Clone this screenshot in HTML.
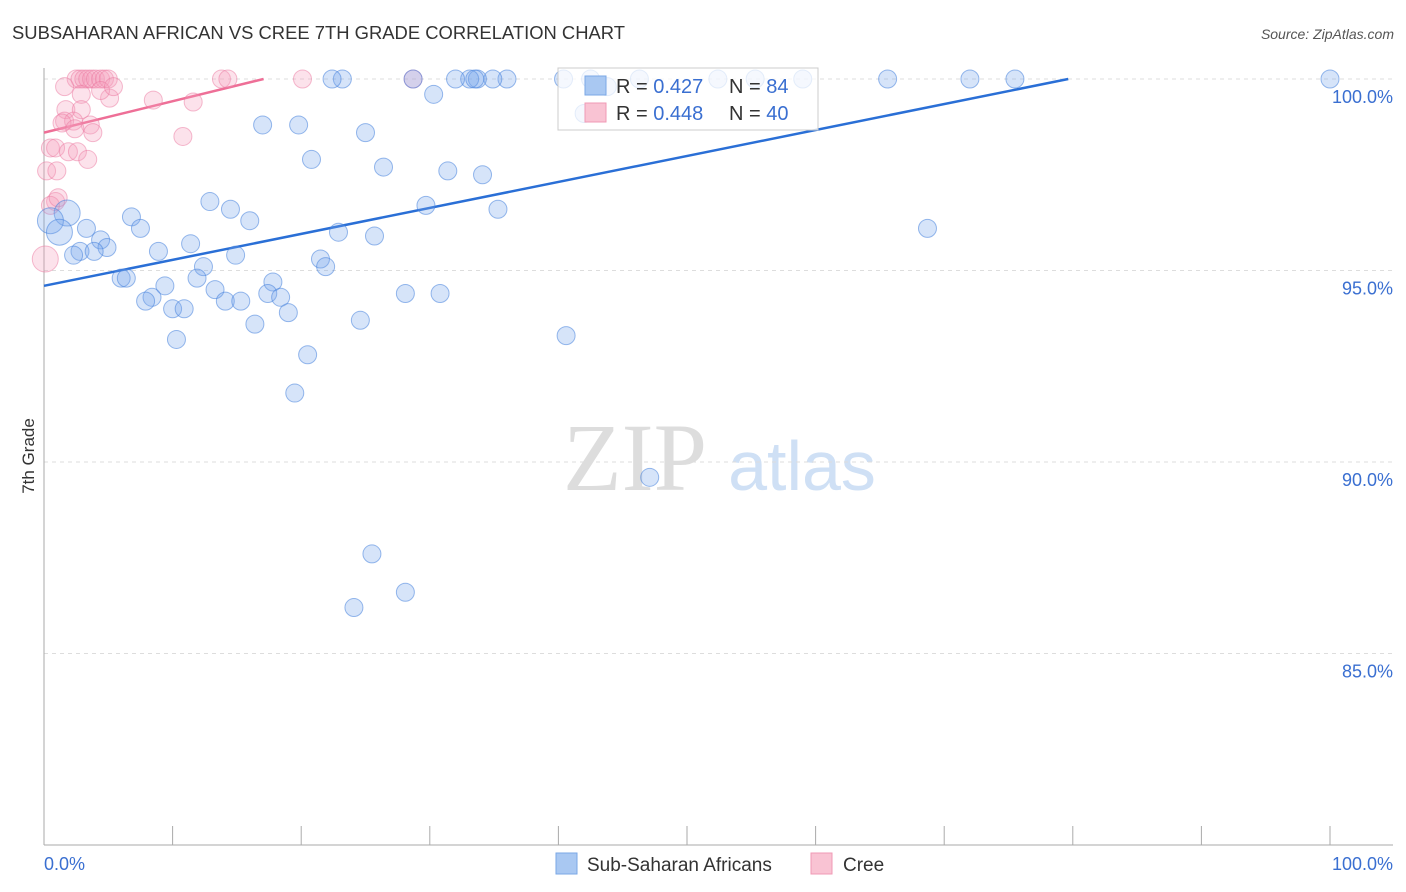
<!DOCTYPE html>
<html><head><meta charset="utf-8"><style>
body{margin:0;background:#fff;font-family:"Liberation Sans",sans-serif;}
svg{display:block}
</style></head><body>
<svg id="chart" width="1406" height="892" xmlns="http://www.w3.org/2000/svg">
<text x="12" y="39" font-size="18" fill="#333" textLength="613" lengthAdjust="spacingAndGlyphs">SUBSAHARAN AFRICAN VS CREE 7TH GRADE CORRELATION CHART</text>
<text x="1394" y="39" font-size="14" fill="#555" text-anchor="end" font-style="italic">Source: ZipAtlas.com</text>
<text transform="translate(34,456) rotate(-90)" font-size="17" fill="#333" text-anchor="middle">7th Grade</text>
<g>
<text x="635" y="490" font-size="96" fill="#ddd" font-family="Liberation Serif,serif" text-anchor="middle">ZIP</text>
<text x="802" y="490" font-size="70" fill="#cfe0f5" text-anchor="middle">atlas</text>
</g>
<g id="grid"></g><g id="axes"></g><g id="lines"></g><g id="pts"></g>
<g>
<rect x="558" y="68" width="260" height="62" fill="rgba(255,255,255,0.75)" stroke="#ccc"/>
<rect x="585" y="76" width="21" height="19" fill="#a9c8f2" stroke="#7aa7e6"/>
<text x="616" y="93" font-size="20" fill="#333">R = <tspan fill="#3a6fd1">0.427</tspan></text>
<text x="729" y="93" font-size="20" fill="#333">N = <tspan fill="#3a6fd1">84</tspan></text>
<rect x="585" y="103" width="21" height="19" fill="#f9c3d3" stroke="#f09ab5"/>
<text x="616" y="120" font-size="20" fill="#333">R = <tspan fill="#3a6fd1">0.448</tspan></text>
<text x="729" y="120" font-size="20" fill="#333">N = <tspan fill="#3a6fd1">40</tspan></text>
</g>
<g>
<rect x="556" y="853" width="21" height="21" fill="#a9c8f2" stroke="#7aa7e6"/>
<text x="587" y="871" font-size="19" fill="#333">Sub-Saharan Africans</text>
<rect x="811" y="853" width="21" height="21" fill="#f9c3d3" stroke="#f09ab5"/>
<text x="843" y="871" font-size="19" fill="#333">Cree</text>
</g>
</svg>
<script>
const yTicks=[100,95,90,85];
const yTickLabels=["100.0%","95.0%","90.0%","85.0%"];
const xTicks=[0,10,20,30,40,50,60,70,80,90,100];
const blueX=[100,65.6,72.0,75.5,68.7,47.1,40.6,59.0,55.3,52.4,46.3,42.5,40.4,36.0,34.9,33.7,33.1,32.0,28.7,23.2,22.4,30.3,17.0,19.8,25.0,20.8,26.4,31.4,34.1,29.7,35.3,12.9,14.5,16.0,6.8,7.5,3.3,4.4,4.9,2.8,2.3,3.9,8.9,11.4,14.9,12.4,22.9,25.7,21.5,21.9,17.8,11.9,6.0,6.4,9.4,13.3,8.4,7.9,17.4,18.4,14.1,15.3,10.0,10.9,19.0,28.1,30.8,24.6,16.4,10.3,20.5,19.5,25.5,28.1,24.1,42.0,33.5,43.8];
const blueY=[100,100,100,100,96.1,89.6,93.3,100,100,100,100,100,100,100,100,100,100,100,100,100,100,99.6,98.8,98.8,98.6,97.9,97.7,97.6,97.5,96.7,96.6,96.8,96.6,96.3,96.4,96.1,96.1,95.8,95.6,95.5,95.4,95.5,95.5,95.7,95.4,95.1,96.0,95.9,95.3,95.1,94.7,94.8,94.8,94.8,94.6,94.5,94.3,94.2,94.4,94.3,94.2,94.2,94.0,94.0,93.9,94.4,94.4,93.7,93.6,93.2,92.8,91.8,87.6,86.6,86.2,99.1,100,99.8];
const blueBigX=[1.8,0.5,1.2];
const blueBigY=[96.5,96.3,96.0];
const pinkX=[2.5,2.8,3.1,3.4,3.7,4.0,4.4,4.7,5.0,13.8,14.3,20.1,28.7,1.6,2.9,5.1,4.4,5.4,8.5,11.6,10.8,1.7,2.9,1.6,2.3,3.6,1.4,2.4,3.8,0.5,0.9,1.9,2.6,3.4,0.2,1.0,0.9,0.5,1.1];
const pinkY=[100,100,100,100,100,100,100,100,100,100,100,100,100,99.8,99.6,99.5,99.7,99.8,99.45,99.4,98.5,99.2,99.2,98.9,98.9,98.8,98.85,98.7,98.6,98.2,98.2,98.1,98.1,97.9,97.6,97.6,96.8,96.7,96.9];
const pinkBigX=[0.1];
const pinkBigY=[95.3];
const blueTrend=[94.6,0.0678];
const pinkTrend=[98.6,0.082];
const NS="http://www.w3.org/2000/svg";
const sx=v=>44+v*12.86, sy=v=>79+(100-v)*38.3;
function mk(t,a,p){const e=document.createElementNS(NS,t);for(const k in a)e.setAttribute(k,a[k]);p.appendChild(e);return e;}
const grid=document.getElementById('grid'),axes=document.getElementById('axes'),lines=document.getElementById('lines'),pts=document.getElementById('pts');
yTicks.forEach((v,i)=>{
 const l=mk('line',{x1:44,x2:1393,y1:sy(v),y2:sy(v),stroke:'#ddd','stroke-dasharray':'4,4'},grid);
 
 
 const t=mk('text',{x:1393,y:sy(v)+24,'font-size':18,fill:'#3a6fd1','text-anchor':'end'},axes);
 t.textContent=yTickLabels[i];
 
 
});
const ya=mk('line',{x1:44,x2:44,y1:68,y2:845,stroke:'#aaa'},axes);


const xa=mk('line',{x1:44,x2:1393,y1:845,y2:845,stroke:'#aaa'},axes);


xTicks.forEach(v=>{
 const t=mk('line',{x1:sx(v),x2:sx(v),y1:826,y2:845,stroke:'#aaa'},axes);
 
 
});
const xl0=mk('text',{x:44,y:870,'font-size':18,fill:'#3a6fd1'},axes);xl0.textContent='0.0%';


const xl1=mk('text',{x:1393,y:870,'font-size':18,fill:'#3a6fd1','text-anchor':'end'},axes);xl1.textContent='100.0%';


function trend(tr,col,name){
 const x1=Math.min(100,(100-tr[0])/tr[1]);
 const l=mk('line',{x1:sx(0),y1:sy(tr[0]),x2:sx(x1),y2:sy(tr[0]+tr[1]*x1),stroke:col,'stroke-width':2.5},lines);
 
 
}
function dots(X,Y,r,fill,stroke,name){
 X.forEach((x,i)=>{
  const c=mk('circle',{cx:sx(x),cy:sy(Y[i]),r:r,fill:fill,stroke:stroke,'stroke-width':1},pts);
  
  
 });
}
dots(pinkX,pinkY,9,'rgba(246,160,188,0.3)','rgba(236,120,160,0.5)','cree-point');
dots(pinkBigX,pinkBigY,13,'rgba(246,160,188,0.3)','rgba(236,120,160,0.5)','cree-point');
dots(blueX,blueY,9,'rgba(120,165,235,0.3)','rgba(70,130,220,0.55)','subsaharan-point');
dots(blueBigX,blueBigY,13,'rgba(120,165,235,0.3)','rgba(70,130,220,0.55)','subsaharan-point');
trend(blueTrend,'#2a6fd6','subsaharan-trendline');
trend(pinkTrend,'#ee6f97','cree-trendline');
</script>
</body></html>
